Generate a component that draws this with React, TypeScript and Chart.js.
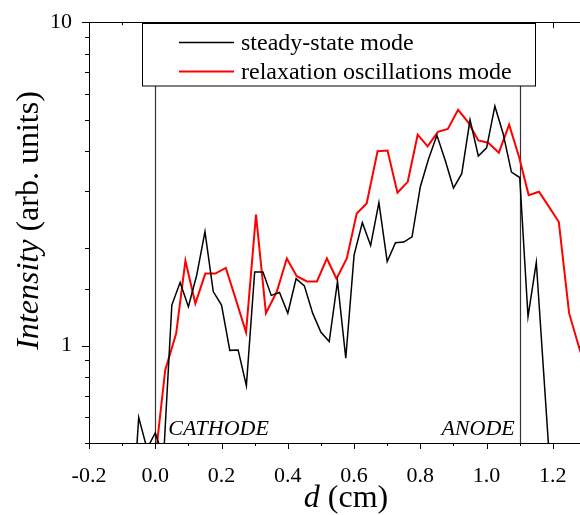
import React, { useEffect, useRef } from "react";
import { Chart, registerables } from "chart.js";

Chart.register(...registerables);

// ---- data ----
const steadyX = [
  -0.075, -0.05, -0.025, 0, 0.025, 0.05, 0.075, 0.1, 0.125, 0.15, 0.175, 0.2, 0.225, 0.25, 0.275,
  0.3, 0.325, 0.35, 0.375, 0.4, 0.425, 0.45, 0.475, 0.5, 0.525, 0.55, 0.575, 0.6, 0.625, 0.65,
  0.675, 0.7, 0.725, 0.75, 0.775, 0.8, 0.825, 0.85, 0.875, 0.9, 0.925, 0.95, 0.975, 1.0, 1.025,
  1.05, 1.075, 1.1, 1.125, 1.15, 1.19,
];
const steadyY = [
  0.24, 0.6, 0.48, 0.537, 0.45, 1.335, 1.567, 1.32, 1.65, 2.25, 1.47, 1.335, 0.967, 0.97, 0.752,
  1.69, 1.69, 1.43, 1.46, 1.26, 1.61, 1.53, 1.26, 1.1, 1.03, 1.58, 0.914, 1.905, 2.4, 2.04,
  2.77, 1.82, 2.08, 2.09, 2.17, 3.1, 3.78, 4.47, 3.74, 3.07, 3.4, 4.99, 3.86, 4.09, 5.5,
  4.52, 3.44, 3.31, 1.23, 1.81, 0.44,
];
const relaxX = [
  0, 0.03, 0.063, 0.091, 0.121, 0.151, 0.181, 0.213, 0.244, 0.274, 0.304, 0.334, 0.367, 0.397,
  0.427, 0.458, 0.488, 0.518, 0.547, 0.578, 0.608, 0.638, 0.671, 0.701, 0.731, 0.762, 0.792,
  0.822, 0.853, 0.883, 0.914, 0.944, 0.975, 1.005, 1.037, 1.068, 1.098, 1.127, 1.158, 1.188,
  1.218, 1.249, 1.28, 1.31,
];
const relaxY = [
  0.445, 0.84, 1.09, 1.83, 1.35, 1.67, 1.67, 1.74, 1.38, 1.1, 2.54, 1.26, 1.47, 1.86,
  1.64, 1.58, 1.58, 1.86, 1.61, 1.86, 2.56, 2.75, 3.99, 4.01, 2.97, 3.21, 4.49,
  4.13, 4.58, 4.68, 5.36, 4.91, 4.31, 4.24, 3.95, 4.82, 3.83, 2.92, 2.99, 2.69,
  2.41, 1.26, 0.98, 0.8,
];
const seriesNames = ["steady-state mode", "relaxation oscillations mode"];
const seriesColors = ["#000000", "#ff0000"];
const electrodeNames = ["CATHODE", "ANODE"];
const electrodePos = [0, 1.1];
const yLabelValues = [1, 10];
const xRange = [-0.2, 1.3];
const yRange = [0.5, 10];

const SERIF = '"Liberation Serif", "Times New Roman", serif';

const decor = {
  id: "decor",
  beforeDatasetsDraw(chart: any) {
    const { ctx, chartArea: ca, scales } = chart;
    const xs = scales.x;
    ctx.save();
    ctx.strokeStyle = "#333";
    ctx.lineWidth = 1.2;
    electrodePos.forEach((p) => {
      const px = Math.round(xs.getPixelForValue(p)) + 0.5;
      ctx.beginPath();
      ctx.moveTo(px, ca.top);
      ctx.lineTo(px, ca.bottom);
      ctx.stroke();
    });
    ctx.restore();
  },
  afterDraw(chart: any) {
    const { ctx, chartArea: ca, scales } = chart;
    const xs = scales.x;
    const ys = scales.y;
    ctx.save();
    ctx.strokeStyle = "#000";
    ctx.lineWidth = 1;
    // frame top/right
    ctx.beginPath();
    ctx.moveTo(ca.left, Math.round(ca.top) + 0.5);
    ctx.lineTo(ca.right, Math.round(ca.top) + 0.5);
    ctx.moveTo(Math.round(ca.right) + 0.5, ca.top);
    ctx.lineTo(Math.round(ca.right) + 0.5, ca.bottom);
    ctx.stroke();
    // x ticks
    ctx.beginPath();
    xs.ticks.forEach((t: any) => {
      const v = t.value;
      const major = Math.abs(Math.round(v * 10)) % 2 === 0;
      const len = major ? 6 : 3;
      const px = Math.round(xs.getPixelForValue(v)) + 0.5;
      ctx.moveTo(px, ca.bottom);
      ctx.lineTo(px, ca.bottom + len);
      ctx.moveTo(px, ca.top);
      ctx.lineTo(px, ca.top + len);
    });
    // y ticks
    ys.ticks.forEach((t: any) => {
      const v = t.value;
      const lg = Math.log10(v);
      const major = Math.abs(lg - Math.round(lg)) < 1e-6;
      const len = major ? 7 : 4;
      const py = Math.round(ys.getPixelForValue(v)) + 0.5;
      ctx.moveTo(ca.left - len, py);
      ctx.lineTo(ca.left, py);
      ctx.moveTo(ca.right - len, py);
      ctx.lineTo(ca.right, py);
    });
    ctx.stroke();

    // electrode labels
    ctx.fillStyle = "#000";
    ctx.font = `italic 22px ${SERIF}`;
    ctx.textBaseline = "alphabetic";
    ctx.textAlign = "left";
    ctx.fillText(electrodeNames[0], xs.getPixelForValue(electrodePos[0]) + 13, ca.bottom - 8);
    ctx.textAlign = "right";
    ctx.fillText(electrodeNames[1], xs.getPixelForValue(electrodePos[1]) - 5, ca.bottom - 8);

    // legend
    const bx = 142.5, by = 23.5, bw = 393, bh = 62.5;
    ctx.fillStyle = "#fff";
    ctx.fillRect(bx, by, bw, bh);
    ctx.strokeStyle = "#000";
    ctx.lineWidth = 1;
    ctx.strokeRect(bx, by, bw, bh);
    const rows = [42.5, 71.5];
    seriesNames.forEach((name, i) => {
      ctx.strokeStyle = seriesColors[i];
      ctx.lineWidth = i === 0 ? 1.5 : 2;
      ctx.beginPath();
      ctx.moveTo(179, rows[i]);
      ctx.lineTo(234, rows[i]);
      ctx.stroke();
      ctx.fillStyle = "#000";
      ctx.font = `24px ${SERIF}`;
      ctx.textAlign = "left";
      ctx.textBaseline = "alphabetic";
      ctx.fillText(name, 241, rows[i] + 7.5);
    });

    // x title: d (cm)
    const fI = `italic 32px ${SERIF}`;
    const fN = `32px ${SERIF}`;
    ctx.fillStyle = "#000";
    ctx.textAlign = "left";
    ctx.textBaseline = "alphabetic";
    ctx.font = fI;
    const w1 = ctx.measureText("d").width;
    ctx.font = fN;
    const w2 = ctx.measureText(" (cm)").width;
    const cx = 346;
    let sx = cx - (w1 + w2) / 2;
    ctx.font = fI;
    ctx.fillText("d", sx, 507);
    ctx.font = fN;
    ctx.fillText(" (cm)", sx + w1, 507);

    // y title
    ctx.save();
    ctx.translate(38, 220.5);
    ctx.rotate(-Math.PI / 2);
    ctx.font = fI;
    const a1 = ctx.measureText("Intensity").width;
    ctx.font = fN;
    const a2 = ctx.measureText(" (arb. units)").width;
    const s0 = -(a1 + a2) / 2;
    ctx.font = fI;
    ctx.fillText("Intensity", s0, 0);
    ctx.font = fN;
    ctx.fillText(" (arb. units)", s0 + a1, 0);
    ctx.restore();

    ctx.restore();
  },
};

export default function App() {
  const ref = useRef<HTMLCanvasElement | null>(null);
  useEffect(() => {
    if (!ref.current) return;
    const chart = new Chart(ref.current, {
      type: "line",
      data: {
        datasets: [
          {
            label: seriesNames[0],
            data: steadyX.map((x, i) => ({ x, y: steadyY[i] })),
            borderColor: seriesColors[0],
            borderWidth: 1.5,
            pointRadius: 0,
            tension: 0,
            fill: false,
          },
          {
            label: seriesNames[1],
            data: relaxX.map((x, i) => ({ x, y: relaxY[i] })),
            borderColor: seriesColors[1],
            borderWidth: 2,
            pointRadius: 0,
            tension: 0,
            fill: false,
          },
        ],
      },
      options: {
        animation: false,
        responsive: false,
        devicePixelRatio: 1,
        layout: { padding: { top: 20, right: 14, left: 0, bottom: 0 } },
        plugins: { legend: { display: false }, tooltip: { enabled: false }, title: { display: false } },
        scales: {
          x: {
            type: "linear",
            min: xRange[0],
            max: xRange[1],
            grid: { display: false },
            border: { display: true, color: "#000", width: 1 },
            ticks: {
              stepSize: 0.1,
              autoSkip: false,
              maxRotation: 0,
              padding: 12,
              color: "#000",
              font: { family: SERIF, size: 22 },
              callback: (v: any) => {
                const n = Number(v);
                const k = Math.round(n * 10);
                if (Math.abs(k) % 2 !== 0) return "";
                return (Math.abs(n) < 1e-9 ? 0 : n).toFixed(1);
              },
            },
            afterFit: (s: any) => {
              s.height = 72;
            },
          },
          y: {
            type: "logarithmic",
            min: yRange[0],
            max: yRange[1],
            grid: { display: false },
            border: { display: true, color: "#000", width: 1 },
            ticks: {
              autoSkip: false,
              padding: 9,
              color: "#000",
              font: { family: SERIF, size: 22 },
              callback: (v: any) => {
                const n = Number(v);
                const hit = yLabelValues.find((t) => Math.abs(t - n) < 1e-9);
                return hit !== undefined ? String(hit) : "";
              },
            },
            afterFit: (s: any) => {
              s.width = 89;
            },
          },
        },
      },
      plugins: [decor],
    });
    return () => chart.destroy();
  }, []);
  return (
    <div style={{ position: "fixed", left: 0, top: 0, width: 580, height: 515, overflow: "hidden", background: "#fff" }}>
      <canvas ref={ref} width={600} height={515} style={{ display: "block" }} />
    </div>
  );
}
